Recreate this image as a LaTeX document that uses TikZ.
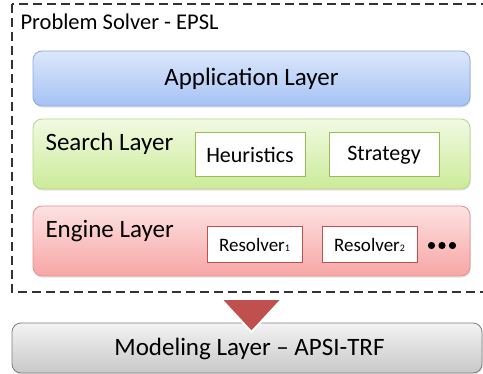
\documentclass[tikz,border=0pt]{standalone}
\usepackage{fontspec}
\setmainfont{Carlito}
\usetikzlibrary{shadows}

\definecolor{appTop}{HTML}{DCE7FB}
\definecolor{appBot}{HTML}{A5C2F4}
\definecolor{appLine}{HTML}{8EAADB}
\definecolor{srchTop}{HTML}{F1FAE2}
\definecolor{srchBot}{HTML}{CBEB98}
\definecolor{srchLine}{HTML}{B5D78A}
\definecolor{srchBox}{HTML}{9BBB59}
\definecolor{engTop}{HTML}{FDE2E2}
\definecolor{engBot}{HTML}{F8A5A5}
\definecolor{engLine}{HTML}{E39191}
\definecolor{engBox}{HTML}{C0504D}
\definecolor{modTop}{HTML}{F3F3F3}
\definecolor{modBot}{HTML}{C8C8C8}
\definecolor{modLine}{HTML}{7F7F7F}

\begin{document}
\begin{tikzpicture}[x=1pt,y=-1pt,
  layerbox/.style={rounded corners=9pt, inner sep=0pt, line width=0.8pt,
    drop shadow={opacity=0.22, shadow xshift=0.8pt, shadow yshift=-1.6pt}},
  innerbox/.style={draw, fill=white, inner sep=0pt, line width=1pt},
  bigtext/.style={font=\fontsize{25}{30}\selectfont},
  midtext/.style={font=\fontsize{22}{26}\selectfont},
  smalltext/.style={font=\fontsize{19}{23}\selectfont},
  dotmark/.style={fill=black, inner sep=0pt, minimum size=7.2pt, circle}
]
\useasboundingbox (0,0) rectangle (483,374);
\clip (0,0) rectangle (483,374);

% outer dashed frame of the solver
\draw[line width=1.4pt, color=black!80, dash pattern=on 9pt off 5pt]
  (12,4) rectangle (495,292);
\node[anchor=base west, font=\fontsize{22.5}{26}\selectfont] (title) at (17,30)
  {Problem Solver - EPSL};

% application layer
\node[layerbox, draw=appLine, top color=appTop, bottom color=appBot,
  minimum width=437pt, minimum height=55pt] (app) at (251.5,78.5) {};
\node[bigtext] (applbl) at (app.center) {Application Layer};

% search layer
\node[layerbox, draw=srchLine, top color=srchTop, bottom color=srchBot,
  minimum width=437pt, minimum height=70pt] (search) at (251.5,154) {};
\node[bigtext, anchor=base west] (searchlbl) at (42,151) {Search Layer};
\node[innerbox, draw=srchBox, minimum width=110pt, minimum height=44pt,
  midtext] (heur) at (250,155) {Heuristics};
\node[innerbox, draw=srchBox, minimum width=110pt, minimum height=44pt,
  midtext] (strat) at (384,155) {Strategy};

% engine layer
\node[layerbox, draw=engLine, top color=engTop, bottom color=engBot,
  minimum width=437pt, minimum height=70pt] (engine) at (251.5,241) {};
\node[bigtext, anchor=base west] (enginelbl) at (42,238) {Engine Layer};
\node[innerbox, draw=engBox, minimum width=95pt, minimum height=36pt,
  smalltext] (res1) at (254.5,245) {Resolver{\fontsize{10}{12}\selectfont 1}};
\node[innerbox, draw=engBox, minimum width=95pt, minimum height=36pt,
  smalltext] (res2) at (369.5,245) {Resolver{\fontsize{10}{12}\selectfont 2}};
\node[dotmark] (d1) at (431.5,245.5) {};
\node[dotmark] (d2) at (442,245.5) {};
\node[dotmark] (d3) at (452.5,245.5) {};

% modeling layer
\node[layerbox, draw=modLine, top color=modTop, bottom color=modBot,
  minimum width=470pt, minimum height=50pt] (model) at (247,348) {};
\node[bigtext] (modellbl) at (249.5,349) {Modeling Layer -- APSI-TRF};

% downward arrow from solver to modeling layer
\coordinate (tl) at (221,299);
\coordinate (tr) at (282,299);
\coordinate (tip) at (251.5,332);
\filldraw[fill=engBox, draw=white, line width=2pt, line join=miter]
  (tl) -- (tr) -- (tip) -- cycle;
\end{tikzpicture}
\end{document}
